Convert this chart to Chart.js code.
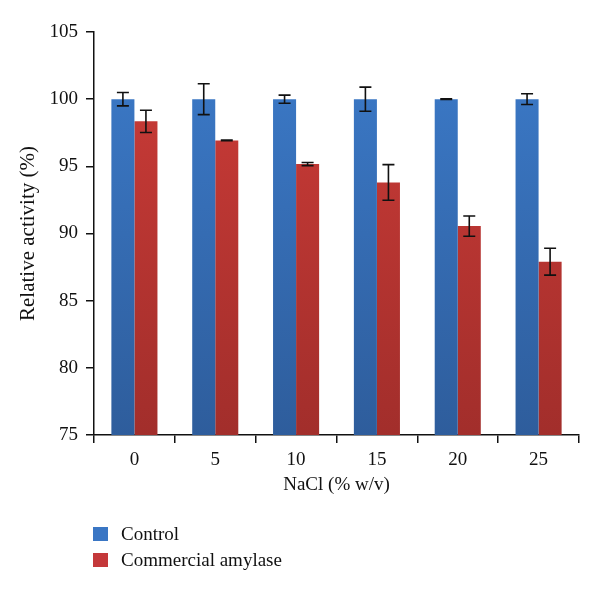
<!DOCTYPE html>
<html>
<head>
<meta charset="utf-8">
<script src="https://cdn.jsdelivr.net/npm/chart.js@4.4.1/dist/chart.umd.min.js"></script>
<style>
  body { margin: 0; background: #fff; }
  #wrap { position: relative; width: 600px; height: 593px; }
  #legend { position: absolute; left: 93px; top: 521px; font-family: "Liberation Serif", serif; font-size: 19px; color: #111; }
  #legend div { display: flex; align-items: center; height: 26px; }
  #legend span.box { width: 15px; height: 14px; margin-right: 13px; display: inline-block; }
</style>
</head>
<body>
<div id="wrap">
  <canvas id="barChart" width="600" height="593"></canvas>
  <div id="legend"></div>
</div>
<script>
// data
const categories = ['0', '5', '10', '15', '20', '25'];
const controlValues = [100, 100, 100, 100, 100, 100];
const controlErrors = [0.5, 1.15, 0.3, 0.9, 0.03, 0.4];
const amylaseValues = [98.35, 96.93, 95.17, 93.8, 90.55, 87.9];
const amylaseErrors = [0.83, 0.03, 0.12, 1.33, 0.75, 1.0];
const yTicks = [75, 80, 85, 90, 95, 100, 105];

const serif = '"Liberation Serif", "Times New Roman", serif';

function grad(top, bottom) {
    return function(ctx) {
        const area = ctx.chart.chartArea;
        if (!area) return top;
        const g = ctx.chart.ctx.createLinearGradient(0, area.top, 0, area.bottom);
        g.addColorStop(0, top);
        g.addColorStop(1, bottom);
        return g;
    };
}

// error bars drawn on top of the bars
const errorBars = {
    id: 'errorBars',
    afterDatasetsDraw(chart) {
        const ctx = chart.ctx;
        const y = chart.scales.y;
        ctx.save();
        ctx.strokeStyle = '#111';
        ctx.lineWidth = 1.6;
        chart.data.datasets.forEach((ds, i) => {
            const meta = chart.getDatasetMeta(i);
            meta.data.forEach((bar, j) => {
                const v = ds.data[j], e = ds.errors[j];
                const yt = y.getPixelForValue(v + e);
                const yb = y.getPixelForValue(v - e);
                ctx.beginPath();
                ctx.moveTo(bar.x, yt); ctx.lineTo(bar.x, yb);
                ctx.moveTo(bar.x - 6, yt); ctx.lineTo(bar.x + 6, yt);
                ctx.moveTo(bar.x - 6, yb); ctx.lineTo(bar.x + 6, yb);
                ctx.stroke();
            });
        });
        ctx.restore();
    }
};

const chart = new Chart(document.getElementById('barChart').getContext('2d'), {
    type: 'bar',
    data: {
        labels: categories,
        datasets: [{
            label: 'Control',
            data: controlValues,
            errors: controlErrors,
            backgroundColor: grad('#3c7bca', '#2e5d9c'),
            legendColor: '#3a76c4'
        }, {
            label: 'Commercial amylase',
            data: amylaseValues,
            errors: amylaseErrors,
            backgroundColor: grad('#cd3c38', '#a22e2b'),
            legendColor: '#c4383a'
        }]
    },
    options: {
        responsive: false,
        animation: false,
        layout: { padding: { left: 0, right: 21, top: 32, bottom: 93 } },
        plugins: { legend: { display: false }, tooltip: { enabled: false } },
        datasets: { bar: { barPercentage: 1, categoryPercentage: 0.57 } },
        scales: {
            x: {
                afterFit: s => { s.height = 65; },
                border: { color: '#111', width: 1.5 },
                grid: { drawOnChartArea: false, drawTicks: true, tickLength: 8, color: '#111', lineWidth: 1.5 },
                ticks: { color: '#111', font: { family: serif, size: 19 }, padding: 6 },
                title: { display: true, text: 'NaCl (% w/v)', color: '#111', font: { family: serif, size: 19 }, padding: { top: 0 } }
            },
            y: {
                min: 75, max: 105,
                afterFit: s => { s.width = 94; },
                afterBuildTicks: s => { s.ticks = yTicks.map(v => ({ value: v })); },
                border: { color: '#111', width: 1.5 },
                grid: { drawOnChartArea: false, drawTicks: true, tickLength: 8, color: '#111', lineWidth: 1.5 },
                ticks: { color: '#111', font: { family: serif, size: 19 }, padding: 8 },
                title: { display: true, text: 'Relative activity (%)', color: '#111', font: { family: serif, size: 21 }, padding: { top: 16, bottom: 0 } }
            }
        }
    },
    plugins: [errorBars]
});

// legend below the chart, stacked like the original
const legend = document.getElementById('legend');
chart.data.datasets.forEach(ds => {
    const row = document.createElement('div');
    const box = document.createElement('span');
    box.className = 'box';
    box.style.background = ds.legendColor;
    row.appendChild(box);
    row.appendChild(document.createTextNode(ds.label));
    legend.appendChild(row);
});
</script>
</body>
</html>
